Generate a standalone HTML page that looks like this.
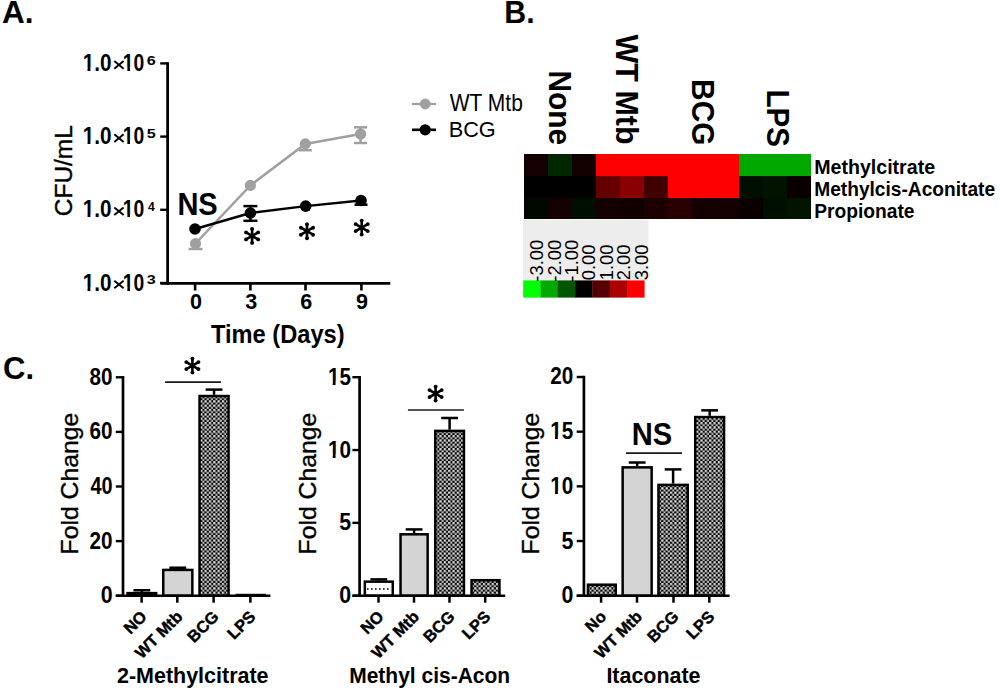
<!DOCTYPE html>
<html><head><meta charset="utf-8"><style>
html,body{margin:0;padding:0;background:#fff;width:1000px;height:690px;overflow:hidden}
svg{display:block}
text{font-family:"Liberation Sans", sans-serif}
</style></head><body>
<svg width="1000" height="690" viewBox="0 0 1000 690" font-family='"Liberation Sans", sans-serif'>
<defs>
<pattern id="chk" patternUnits="userSpaceOnUse" width="4.35" height="4.35">
<rect width="4.35" height="4.35" fill="#000"/>
<rect x="0.05" y="0.05" width="2.25" height="2.25" fill="#e2e2e2"/>
<rect x="2.2" y="2.2" width="2.1" height="2.1" fill="#c4c4c4"/>
</pattern>
</defs>
<line x1="167.60" y1="62.20" x2="167.60" y2="284.70" stroke="#000" stroke-width="2.75"/>
<line x1="160.20" y1="63.40" x2="167.60" y2="63.40" stroke="#000" stroke-width="2.4"/>
<line x1="160.20" y1="136.60" x2="167.60" y2="136.60" stroke="#000" stroke-width="2.4"/>
<line x1="160.20" y1="209.80" x2="167.60" y2="209.80" stroke="#000" stroke-width="2.4"/>
<line x1="160.20" y1="283.00" x2="167.60" y2="283.00" stroke="#000" stroke-width="2.4"/>
<line x1="160.50" y1="283.40" x2="390.30" y2="283.40" stroke="#000" stroke-width="2.75"/>
<line x1="195.10" y1="283.40" x2="195.10" y2="290.50" stroke="#000" stroke-width="2.6"/>
<line x1="250.40" y1="283.40" x2="250.40" y2="290.50" stroke="#000" stroke-width="2.6"/>
<line x1="305.50" y1="283.40" x2="305.50" y2="290.50" stroke="#000" stroke-width="2.6"/>
<line x1="361.40" y1="283.40" x2="361.40" y2="290.50" stroke="#000" stroke-width="2.6"/>
<polyline points="195.5,243.5 250.4,185.4 305.3,143.9 360.6,134.0" fill="none" stroke="#a0a0a0" stroke-width="2.5"/>
<line x1="195.50" y1="243.50" x2="195.50" y2="249.00" stroke="#a0a0a0" stroke-width="2.5"/><line x1="188.50" y1="249.00" x2="202.50" y2="249.00" stroke="#a0a0a0" stroke-width="2.5"/>
<line x1="305.30" y1="143.90" x2="305.30" y2="150.20" stroke="#a0a0a0" stroke-width="2.5"/><line x1="298.80" y1="150.20" x2="311.80" y2="150.20" stroke="#a0a0a0" stroke-width="2.5"/>
<line x1="360.60" y1="134.00" x2="360.60" y2="127.30" stroke="#a0a0a0" stroke-width="2.5"/><line x1="354.10" y1="127.30" x2="367.10" y2="127.30" stroke="#a0a0a0" stroke-width="2.5"/>
<line x1="360.60" y1="134.00" x2="360.60" y2="143.00" stroke="#a0a0a0" stroke-width="2.5"/><line x1="354.10" y1="143.00" x2="367.10" y2="143.00" stroke="#a0a0a0" stroke-width="2.5"/>
<circle cx="195.5" cy="243.5" r="5.6" fill="#a0a0a0"/>
<circle cx="250.4" cy="185.4" r="5.6" fill="#a0a0a0"/>
<circle cx="305.3" cy="143.9" r="5.6" fill="#a0a0a0"/>
<circle cx="360.6" cy="134.0" r="5.6" fill="#a0a0a0"/>
<polyline points="195.0,229.0 250.4,213.0 305.7,206.1 361.0,200.5" fill="none" stroke="#000" stroke-width="2.4"/>
<line x1="250.40" y1="213.00" x2="250.40" y2="206.10" stroke="#000" stroke-width="2.5"/><line x1="243.40" y1="206.10" x2="257.40" y2="206.10" stroke="#000" stroke-width="2.5"/>
<line x1="250.40" y1="213.00" x2="250.40" y2="220.80" stroke="#000" stroke-width="2.5"/><line x1="243.40" y1="220.80" x2="257.40" y2="220.80" stroke="#000" stroke-width="2.5"/>
<line x1="361.00" y1="200.50" x2="361.00" y2="204.70" stroke="#000" stroke-width="2.5"/><line x1="354.50" y1="204.70" x2="367.50" y2="204.70" stroke="#000" stroke-width="2.5"/>
<circle cx="195.0" cy="229.0" r="5.8" fill="#000"/>
<circle cx="250.4" cy="213.0" r="5.8" fill="#000"/>
<circle cx="305.7" cy="206.1" r="5.8" fill="#000"/>
<circle cx="361.0" cy="200.5" r="5.8" fill="#000"/>
<path d="M252.10,228.90L252.10,242.90M246.04,232.40L258.16,239.40M246.04,239.40L258.16,232.40" stroke="#000" stroke-width="2.6" fill="none"/><circle cx="252.10" cy="228.90" r="1.95"/><circle cx="252.10" cy="242.90" r="1.95"/><circle cx="246.04" cy="232.40" r="1.95"/><circle cx="258.16" cy="239.40" r="1.95"/><circle cx="246.04" cy="239.40" r="1.95"/><circle cx="258.16" cy="232.40" r="1.95"/>
<path d="M307.00,224.20L307.00,238.20M300.94,227.70L313.06,234.70M300.94,234.70L313.06,227.70" stroke="#000" stroke-width="2.6" fill="none"/><circle cx="307.00" cy="224.20" r="1.95"/><circle cx="307.00" cy="238.20" r="1.95"/><circle cx="300.94" cy="227.70" r="1.95"/><circle cx="313.06" cy="234.70" r="1.95"/><circle cx="300.94" cy="234.70" r="1.95"/><circle cx="313.06" cy="227.70" r="1.95"/>
<path d="M361.70,220.60L361.70,234.60M355.64,224.10L367.76,231.10M355.64,231.10L367.76,224.10" stroke="#000" stroke-width="2.6" fill="none"/><circle cx="361.70" cy="220.60" r="1.95"/><circle cx="361.70" cy="234.60" r="1.95"/><circle cx="355.64" cy="224.10" r="1.95"/><circle cx="367.76" cy="231.10" r="1.95"/><circle cx="355.64" cy="231.10" r="1.95"/><circle cx="367.76" cy="224.10" r="1.95"/>
<line x1="412.00" y1="104.00" x2="436.00" y2="104.00" stroke="#a0a0a0" stroke-width="2.4"/>
<circle cx="425.2" cy="104" r="5.4" fill="#a0a0a0"/>
<line x1="412.00" y1="129.80" x2="436.00" y2="129.80" stroke="#000" stroke-width="2.6"/>
<circle cx="425.2" cy="129.8" r="5.6" fill="#000"/>
<g shape-rendering="crispEdges">
<rect x="524" y="154" width="24" height="22" fill="#140000"/>
<rect x="548" y="154" width="24" height="22" fill="#002800"/>
<rect x="572" y="154" width="24" height="22" fill="#100000"/>
<rect x="596" y="154" width="24" height="22" fill="#ff0000"/>
<rect x="620" y="154" width="24" height="22" fill="#ff0000"/>
<rect x="644" y="154" width="24" height="22" fill="#ff0000"/>
<rect x="668" y="154" width="24" height="22" fill="#ff0000"/>
<rect x="692" y="154" width="23" height="22" fill="#ff0000"/>
<rect x="715" y="154" width="24" height="22" fill="#ff0000"/>
<rect x="739" y="154" width="24" height="22" fill="#00a800"/>
<rect x="763" y="154" width="24" height="22" fill="#00a800"/>
<rect x="787" y="154" width="24" height="22" fill="#00a800"/>
<rect x="524" y="176" width="24" height="22" fill="#000000"/>
<rect x="548" y="176" width="24" height="22" fill="#000000"/>
<rect x="572" y="176" width="24" height="22" fill="#000000"/>
<rect x="596" y="176" width="24" height="22" fill="#640000"/>
<rect x="620" y="176" width="24" height="22" fill="#8a0000"/>
<rect x="644" y="176" width="24" height="22" fill="#400000"/>
<rect x="668" y="176" width="24" height="22" fill="#ff0000"/>
<rect x="692" y="176" width="23" height="22" fill="#ff0000"/>
<rect x="715" y="176" width="24" height="22" fill="#ff0000"/>
<rect x="739" y="176" width="24" height="22" fill="#001000"/>
<rect x="763" y="176" width="24" height="22" fill="#001400"/>
<rect x="787" y="176" width="24" height="22" fill="#0a0000"/>
<rect x="524" y="198" width="24" height="21" fill="#000800"/>
<rect x="548" y="198" width="24" height="21" fill="#140000"/>
<rect x="572" y="198" width="24" height="21" fill="#000e00"/>
<rect x="596" y="198" width="24" height="21" fill="#140000"/>
<rect x="620" y="198" width="24" height="21" fill="#100000"/>
<rect x="644" y="198" width="24" height="21" fill="#1c0000"/>
<rect x="668" y="198" width="24" height="21" fill="#280000"/>
<rect x="692" y="198" width="23" height="21" fill="#140000"/>
<rect x="715" y="198" width="24" height="21" fill="#140000"/>
<rect x="739" y="198" width="24" height="21" fill="#0a0000"/>
<rect x="763" y="198" width="24" height="21" fill="#001000"/>
<rect x="787" y="198" width="24" height="21" fill="#001400"/>
</g>
<rect x="523" y="220" width="125.5" height="60.5" fill="#ededed"/>
<rect x="523.20" y="280.4" width="17.6" height="17.2" fill="#00ff00"/>
<rect x="540.50" y="280.4" width="17.6" height="17.2" fill="#00aa00"/>
<rect x="557.80" y="280.4" width="17.6" height="17.2" fill="#005500"/>
<rect x="575.10" y="280.4" width="17.6" height="17.2" fill="#000000"/>
<rect x="592.40" y="280.4" width="17.6" height="17.2" fill="#550000"/>
<rect x="609.70" y="280.4" width="17.6" height="17.2" fill="#aa0000"/>
<rect x="627.00" y="280.4" width="17.6" height="17.2" fill="#ff0000"/>
<line x1="115.80" y1="595.70" x2="123.00" y2="595.70" stroke="#000" stroke-width="2.4"/>
<line x1="115.80" y1="541.10" x2="123.00" y2="541.10" stroke="#000" stroke-width="2.4"/>
<line x1="115.80" y1="486.50" x2="123.00" y2="486.50" stroke="#000" stroke-width="2.4"/>
<line x1="115.80" y1="431.90" x2="123.00" y2="431.90" stroke="#000" stroke-width="2.4"/>
<line x1="115.80" y1="377.30" x2="123.00" y2="377.30" stroke="#000" stroke-width="2.4"/>
<line x1="141.85" y1="591.88" x2="141.85" y2="590.24" stroke="#000" stroke-width="2.5"/>
<line x1="133.45" y1="590.24" x2="150.25" y2="590.24" stroke="#000" stroke-width="2.5"/>
<rect x="127.55" y="593.13" width="28.60" height="2.57" fill="#000" stroke="#000" stroke-width="2.5"/>
<line x1="177.80" y1="568.67" x2="177.80" y2="567.72" stroke="#000" stroke-width="2.5"/>
<line x1="169.40" y1="567.72" x2="186.20" y2="567.72" stroke="#000" stroke-width="2.5"/>
<rect x="163.25" y="569.92" width="29.10" height="25.78" fill="#d4d4d4" stroke="#000" stroke-width="2.5"/>
<line x1="214.05" y1="394.77" x2="214.05" y2="389.59" stroke="#000" stroke-width="2.5"/>
<line x1="205.65" y1="389.59" x2="222.45" y2="389.59" stroke="#000" stroke-width="2.5"/>
<rect x="199.55" y="396.02" width="29.00" height="199.68" fill="url(#chk)" stroke="#000" stroke-width="2.5"/>
<rect x="236.75" y="595.04" width="28.00" height="0.66" fill="#000" stroke="#000" stroke-width="2.5"/>
<line x1="123.00" y1="376.10" x2="123.00" y2="595.70" stroke="#000" stroke-width="2.7"/>
<line x1="115.80" y1="595.70" x2="270.40" y2="595.70" stroke="#000" stroke-width="2.6"/>
<line x1="141.60" y1="595.70" x2="141.60" y2="602.70" stroke="#000" stroke-width="2.5"/>
<line x1="177.30" y1="595.70" x2="177.30" y2="602.70" stroke="#000" stroke-width="2.5"/>
<line x1="213.60" y1="595.70" x2="213.60" y2="602.70" stroke="#000" stroke-width="2.5"/>
<line x1="250.40" y1="595.70" x2="250.40" y2="602.70" stroke="#000" stroke-width="2.5"/>
<line x1="165.10" y1="382.20" x2="221.10" y2="382.20" stroke="#1a1a1a" stroke-width="1.7"/>
<path d="M192.40,358.60L192.40,372.60M186.34,362.10L198.46,369.10M186.34,369.10L198.46,362.10" stroke="#000" stroke-width="2.6" fill="none"/><circle cx="192.40" cy="358.60" r="1.95"/><circle cx="192.40" cy="372.60" r="1.95"/><circle cx="186.34" cy="362.10" r="1.95"/><circle cx="198.46" cy="369.10" r="1.95"/><circle cx="186.34" cy="369.10" r="1.95"/><circle cx="198.46" cy="362.10" r="1.95"/>
<line x1="352.40" y1="595.70" x2="359.60" y2="595.70" stroke="#000" stroke-width="2.4"/>
<line x1="352.40" y1="522.87" x2="359.60" y2="522.87" stroke="#000" stroke-width="2.4"/>
<line x1="352.40" y1="450.03" x2="359.60" y2="450.03" stroke="#000" stroke-width="2.4"/>
<line x1="352.40" y1="377.20" x2="359.60" y2="377.20" stroke="#000" stroke-width="2.4"/>
<line x1="378.80" y1="580.41" x2="378.80" y2="579.39" stroke="#000" stroke-width="2.5"/>
<line x1="370.40" y1="579.39" x2="387.20" y2="579.39" stroke="#000" stroke-width="2.5"/>
<rect x="364.85" y="581.66" width="27.90" height="14.04" fill="#fff" stroke="#000" stroke-width="2.5"/>
<line x1="414.10" y1="533.06" x2="414.10" y2="529.42" stroke="#000" stroke-width="2.5"/>
<line x1="405.70" y1="529.42" x2="422.50" y2="529.42" stroke="#000" stroke-width="2.5"/>
<rect x="400.55" y="534.31" width="27.10" height="61.39" fill="#d4d4d4" stroke="#000" stroke-width="2.5"/>
<line x1="449.60" y1="429.64" x2="449.60" y2="417.99" stroke="#000" stroke-width="2.5"/>
<line x1="441.20" y1="417.99" x2="458.00" y2="417.99" stroke="#000" stroke-width="2.5"/>
<rect x="435.25" y="430.89" width="28.70" height="164.81" fill="url(#chk)" stroke="#000" stroke-width="2.5"/>
<rect x="471.55" y="580.20" width="27.90" height="15.50" fill="url(#chk)" stroke="#000" stroke-width="2.5"/>
<line x1="359.60" y1="376.00" x2="359.60" y2="595.70" stroke="#000" stroke-width="2.7"/>
<line x1="352.40" y1="595.70" x2="505.20" y2="595.70" stroke="#000" stroke-width="2.6"/>
<line x1="378.50" y1="595.70" x2="378.50" y2="602.70" stroke="#000" stroke-width="2.5"/>
<line x1="414.00" y1="595.70" x2="414.00" y2="602.70" stroke="#000" stroke-width="2.5"/>
<line x1="449.50" y1="595.70" x2="449.50" y2="602.70" stroke="#000" stroke-width="2.5"/>
<line x1="485.20" y1="595.70" x2="485.20" y2="602.70" stroke="#000" stroke-width="2.5"/>
<line x1="407.90" y1="410.00" x2="463.90" y2="410.00" stroke="#1a1a1a" stroke-width="1.7"/>
<path d="M435.60,386.60L435.60,400.60M429.54,390.10L441.66,397.10M429.54,397.10L441.66,390.10" stroke="#000" stroke-width="2.6" fill="none"/><circle cx="435.60" cy="386.60" r="1.95"/><circle cx="435.60" cy="400.60" r="1.95"/><circle cx="429.54" cy="390.10" r="1.95"/><circle cx="441.66" cy="397.10" r="1.95"/><circle cx="429.54" cy="397.10" r="1.95"/><circle cx="441.66" cy="390.10" r="1.95"/>
<line x1="576.70" y1="595.70" x2="583.90" y2="595.70" stroke="#000" stroke-width="2.4"/>
<line x1="576.70" y1="541.03" x2="583.90" y2="541.03" stroke="#000" stroke-width="2.4"/>
<line x1="576.70" y1="486.35" x2="583.90" y2="486.35" stroke="#000" stroke-width="2.4"/>
<line x1="576.70" y1="431.68" x2="583.90" y2="431.68" stroke="#000" stroke-width="2.4"/>
<line x1="576.70" y1="377.00" x2="583.90" y2="377.00" stroke="#000" stroke-width="2.4"/>
<rect x="587.95" y="584.70" width="27.80" height="11.00" fill="url(#chk)" stroke="#000" stroke-width="2.5"/>
<line x1="637.15" y1="466.12" x2="637.15" y2="462.51" stroke="#000" stroke-width="2.5"/>
<line x1="628.75" y1="462.51" x2="645.55" y2="462.51" stroke="#000" stroke-width="2.5"/>
<rect x="622.65" y="467.37" width="29.00" height="128.33" fill="#d4d4d4" stroke="#000" stroke-width="2.5"/>
<line x1="673.10" y1="483.62" x2="673.10" y2="469.40" stroke="#000" stroke-width="2.5"/>
<line x1="664.70" y1="469.40" x2="681.50" y2="469.40" stroke="#000" stroke-width="2.5"/>
<rect x="658.45" y="484.87" width="29.30" height="110.83" fill="url(#chk)" stroke="#000" stroke-width="2.5"/>
<line x1="709.65" y1="415.82" x2="709.65" y2="410.35" stroke="#000" stroke-width="2.5"/>
<line x1="701.25" y1="410.35" x2="718.05" y2="410.35" stroke="#000" stroke-width="2.5"/>
<rect x="695.25" y="417.07" width="28.80" height="178.63" fill="url(#chk)" stroke="#000" stroke-width="2.5"/>
<line x1="583.90" y1="375.80" x2="583.90" y2="595.70" stroke="#000" stroke-width="2.7"/>
<line x1="576.70" y1="595.70" x2="729.60" y2="595.70" stroke="#000" stroke-width="2.6"/>
<line x1="601.10" y1="595.70" x2="601.10" y2="602.70" stroke="#000" stroke-width="2.5"/>
<line x1="637.00" y1="595.70" x2="637.00" y2="602.70" stroke="#000" stroke-width="2.5"/>
<line x1="673.50" y1="595.70" x2="673.50" y2="602.70" stroke="#000" stroke-width="2.5"/>
<line x1="709.30" y1="595.70" x2="709.30" y2="602.70" stroke="#000" stroke-width="2.5"/>
<line x1="626.00" y1="453.20" x2="682.00" y2="453.20" stroke="#1a1a1a" stroke-width="1.7"/>
<line x1="367.00" y1="589.00" x2="391.00" y2="589.00" stroke="#000" stroke-width="1.3" stroke-dasharray="1.6,2.4"/>
<text transform="translate(147.80,617.70) rotate(-45)" font-size="16.4" font-weight="bold" stroke="#000" stroke-width="0.4" text-anchor="end">NO</text>
<text transform="translate(183.50,617.70) rotate(-45)" font-size="16.4" font-weight="bold" stroke="#000" stroke-width="0.4" text-anchor="end">WT Mtb</text>
<text transform="translate(219.80,617.70) rotate(-45)" font-size="16.4" font-weight="bold" stroke="#000" stroke-width="0.4" text-anchor="end">BCG</text>
<text transform="translate(256.60,617.70) rotate(-45)" font-size="16.4" font-weight="bold" stroke="#000" stroke-width="0.4" text-anchor="end">LPS</text>
<text transform="translate(384.70,617.70) rotate(-45)" font-size="16.4" font-weight="bold" stroke="#000" stroke-width="0.4" text-anchor="end">NO</text>
<text transform="translate(420.20,617.70) rotate(-45)" font-size="16.4" font-weight="bold" stroke="#000" stroke-width="0.4" text-anchor="end">WT Mtb</text>
<text transform="translate(455.70,617.70) rotate(-45)" font-size="16.4" font-weight="bold" stroke="#000" stroke-width="0.4" text-anchor="end">BCG</text>
<text transform="translate(491.40,617.70) rotate(-45)" font-size="16.4" font-weight="bold" stroke="#000" stroke-width="0.4" text-anchor="end">LPS</text>
<text transform="translate(607.30,617.70) rotate(-45)" font-size="16.4" font-weight="bold" stroke="#000" stroke-width="0.4" text-anchor="end">No</text>
<text transform="translate(643.20,617.70) rotate(-45)" font-size="16.4" font-weight="bold" stroke="#000" stroke-width="0.4" text-anchor="end">WT Mtb</text>
<text transform="translate(679.70,617.70) rotate(-45)" font-size="16.4" font-weight="bold" stroke="#000" stroke-width="0.4" text-anchor="end">BCG</text>
<text transform="translate(715.50,617.70) rotate(-45)" font-size="16.4" font-weight="bold" stroke="#000" stroke-width="0.4" text-anchor="end">LPS</text>
<text x="1.98" y="22.80" font-size="31" font-weight="bold" textLength="31.55" lengthAdjust="spacingAndGlyphs">A.</text>
<text x="504.34" y="22.80" font-size="31" font-weight="bold" textLength="30.31" lengthAdjust="spacingAndGlyphs">B.</text>
<text x="3.08" y="378.50" font-size="30.5" font-weight="bold" textLength="31.06" lengthAdjust="spacingAndGlyphs">C.</text>
<text x="82.71" y="70.90" font-size="23.2" font-weight="bold" textLength="28.80" lengthAdjust="spacingAndGlyphs">1.0</text><rect x="83.41" y="67.73" width="4.13" height="4.37" fill="#fff"/><rect x="90.39" y="67.73" width="3.87" height="4.37" fill="#fff"/>
<text x="122.87" y="70.90" font-size="23.2" font-weight="bold" textLength="21.50" lengthAdjust="spacingAndGlyphs">10</text><rect x="123.48" y="67.73" width="3.89" height="4.37" fill="#fff"/><rect x="130.03" y="67.73" width="3.65" height="4.37" fill="#fff"/>
<text x="146.80" y="64.80" font-size="13.5" font-weight="bold" textLength="9.02" lengthAdjust="spacingAndGlyphs">6</text>
<text x="82.71" y="144.10" font-size="23.2" font-weight="bold" textLength="28.80" lengthAdjust="spacingAndGlyphs">1.0</text><rect x="83.41" y="140.93" width="4.13" height="4.37" fill="#fff"/><rect x="90.39" y="140.93" width="3.87" height="4.37" fill="#fff"/>
<text x="122.87" y="144.10" font-size="23.2" font-weight="bold" textLength="21.50" lengthAdjust="spacingAndGlyphs">10</text><rect x="123.48" y="140.93" width="3.89" height="4.37" fill="#fff"/><rect x="130.03" y="140.93" width="3.65" height="4.37" fill="#fff"/>
<text x="146.80" y="138.00" font-size="13.5" font-weight="bold" textLength="9.02" lengthAdjust="spacingAndGlyphs">5</text>
<text x="82.71" y="217.30" font-size="23.2" font-weight="bold" textLength="28.80" lengthAdjust="spacingAndGlyphs">1.0</text><rect x="83.41" y="214.13" width="4.13" height="4.37" fill="#fff"/><rect x="90.39" y="214.13" width="3.87" height="4.37" fill="#fff"/>
<text x="122.87" y="217.30" font-size="23.2" font-weight="bold" textLength="21.50" lengthAdjust="spacingAndGlyphs">10</text><rect x="123.48" y="214.13" width="3.89" height="4.37" fill="#fff"/><rect x="130.03" y="214.13" width="3.65" height="4.37" fill="#fff"/>
<text x="148.00" y="211.20" font-size="13.5" font-weight="bold" textLength="6.76" lengthAdjust="spacingAndGlyphs">4</text>
<text x="82.71" y="290.50" font-size="23.2" font-weight="bold" textLength="28.80" lengthAdjust="spacingAndGlyphs">1.0</text><rect x="83.41" y="287.33" width="4.13" height="4.37" fill="#fff"/><rect x="90.39" y="287.33" width="3.87" height="4.37" fill="#fff"/>
<text x="122.87" y="290.50" font-size="23.2" font-weight="bold" textLength="21.50" lengthAdjust="spacingAndGlyphs">10</text><rect x="123.48" y="287.33" width="3.89" height="4.37" fill="#fff"/><rect x="130.03" y="287.33" width="3.65" height="4.37" fill="#fff"/>
<text x="146.80" y="284.40" font-size="13.5" font-weight="bold" textLength="9.02" lengthAdjust="spacingAndGlyphs">3</text>
<text x="190.10" y="309.00" font-size="21.5" font-weight="bold">0</text>
<text x="245.20" y="309.00" font-size="21.5" font-weight="bold">3</text>
<text x="300.30" y="309.00" font-size="21.5" font-weight="bold">6</text>
<text x="356.00" y="309.00" font-size="21.5" font-weight="bold">9</text>
<text x="211.00" y="342.60" font-size="25.3" font-weight="bold" textLength="133.58" lengthAdjust="spacingAndGlyphs">Time (Days)</text>
<text transform="translate(72.30,216.19) rotate(-90)" font-size="24.6" font-weight="normal" stroke="#000" stroke-width="0.4" textLength="90.94" lengthAdjust="spacingAndGlyphs">CFU/mL</text>
<text x="177.38" y="215.20" font-size="31" font-weight="bold" textLength="40.39" lengthAdjust="spacingAndGlyphs">NS</text>
<text x="449.80" y="111.20" font-size="23.2" font-weight="normal" textLength="73.06" lengthAdjust="spacingAndGlyphs">WT Mtb</text>
<text x="448.69" y="137.00" font-size="22.7" font-weight="normal" textLength="47.03" lengthAdjust="spacingAndGlyphs">BCG</text>
<text transform="translate(548.90,70.50) rotate(90)" font-size="31.4" font-weight="bold" textLength="74.72" lengthAdjust="spacingAndGlyphs">None</text>
<text transform="translate(615.60,34.60) rotate(90)" font-size="31.8" font-weight="bold" textLength="110.01" lengthAdjust="spacingAndGlyphs">WT Mtb</text>
<text transform="translate(692.10,79.11) rotate(90)" font-size="31.5" font-weight="bold" textLength="66.29" lengthAdjust="spacingAndGlyphs">BCG</text>
<text transform="translate(767.30,89.39) rotate(90)" font-size="31.0" font-weight="bold" textLength="57.55" lengthAdjust="spacingAndGlyphs">LPS</text>
<text x="814.20" y="173.90" font-size="19.6" font-weight="bold">Methylcitrate</text>
<text x="814.22" y="196.20" font-size="19.6" font-weight="bold" textLength="180.87" lengthAdjust="spacingAndGlyphs">Methylcis-Aconitate</text>
<text x="814.22" y="217.50" font-size="19.6" font-weight="bold" textLength="100.32" lengthAdjust="spacingAndGlyphs">Propionate</text>
<text transform="translate(543.10,281.70) rotate(-90)" font-size="18.4" font-weight="normal">-3.00</text>
<text transform="translate(560.50,281.70) rotate(-90)" font-size="18.4" font-weight="normal">-2.00</text>
<text transform="translate(577.90,281.70) rotate(-90)" font-size="18.4" font-weight="normal">-1.00</text>
<text transform="translate(595.30,280.30) rotate(-90)" font-size="18.4" font-weight="normal">0.00</text>
<text transform="translate(612.70,280.30) rotate(-90)" font-size="18.4" font-weight="normal">1.00</text>
<text transform="translate(630.10,280.30) rotate(-90)" font-size="18.4" font-weight="normal">2.00</text>
<text transform="translate(647.50,280.30) rotate(-90)" font-size="18.4" font-weight="normal">3.00</text>
<text x="100.84" y="603.40" font-size="23" font-weight="bold" textLength="11.90" lengthAdjust="spacingAndGlyphs">0</text>
<text x="89.50" y="548.73" font-size="23" font-weight="bold" textLength="23.03" lengthAdjust="spacingAndGlyphs">20</text>
<text x="90.40" y="494.05" font-size="23" font-weight="bold" textLength="22.11" lengthAdjust="spacingAndGlyphs">40</text>
<text x="89.50" y="439.38" font-size="23" font-weight="bold" textLength="23.03" lengthAdjust="spacingAndGlyphs">60</text>
<text x="89.50" y="384.70" font-size="23" font-weight="bold" textLength="23.03" lengthAdjust="spacingAndGlyphs">80</text>
<text transform="translate(78.00,554.44) rotate(-90)" font-size="24.3" font-weight="normal" stroke="#000" stroke-width="0.35" textLength="141.80" lengthAdjust="spacingAndGlyphs">Fold Change</text>
<text x="339.24" y="603.40" font-size="23" font-weight="bold" textLength="11.90" lengthAdjust="spacingAndGlyphs">0</text>
<text x="339.24" y="530.47" font-size="23" font-weight="bold" textLength="11.90" lengthAdjust="spacingAndGlyphs">5</text>
<text x="327.90" y="457.53" font-size="23" font-weight="bold" textLength="23.03" lengthAdjust="spacingAndGlyphs">10</text><rect x="328.60" y="454.39" width="4.13" height="4.35" fill="#fff"/><rect x="335.57" y="454.39" width="3.86" height="4.35" fill="#fff"/>
<text x="327.90" y="384.60" font-size="23" font-weight="bold" textLength="23.03" lengthAdjust="spacingAndGlyphs">15</text><rect x="328.60" y="381.45" width="4.13" height="4.35" fill="#fff"/><rect x="335.57" y="381.45" width="3.86" height="4.35" fill="#fff"/>
<text transform="translate(316.10,554.44) rotate(-90)" font-size="24.3" font-weight="normal" stroke="#000" stroke-width="0.35" textLength="141.80" lengthAdjust="spacingAndGlyphs">Fold Change</text>
<text x="561.54" y="603.40" font-size="23" font-weight="bold" textLength="11.90" lengthAdjust="spacingAndGlyphs">0</text>
<text x="561.54" y="548.65" font-size="23" font-weight="bold" textLength="11.90" lengthAdjust="spacingAndGlyphs">5</text>
<text x="550.20" y="493.90" font-size="23" font-weight="bold" textLength="23.03" lengthAdjust="spacingAndGlyphs">10</text><rect x="550.90" y="490.75" width="4.13" height="4.35" fill="#fff"/><rect x="557.87" y="490.75" width="3.86" height="4.35" fill="#fff"/>
<text x="550.20" y="439.15" font-size="23" font-weight="bold" textLength="23.03" lengthAdjust="spacingAndGlyphs">15</text><rect x="550.90" y="436.00" width="4.13" height="4.35" fill="#fff"/><rect x="557.87" y="436.00" width="3.86" height="4.35" fill="#fff"/>
<text x="550.20" y="384.40" font-size="23" font-weight="bold" textLength="23.03" lengthAdjust="spacingAndGlyphs">20</text>
<text transform="translate(538.70,554.44) rotate(-90)" font-size="24.3" font-weight="normal" stroke="#000" stroke-width="0.35" textLength="141.80" lengthAdjust="spacingAndGlyphs">Fold Change</text>
<text x="116.95" y="682.50" font-size="22.5" font-weight="bold" textLength="151.62" lengthAdjust="spacingAndGlyphs">2-Methylcitrate</text>
<text x="349.23" y="682.50" font-size="22.5" font-weight="bold" textLength="160.89" lengthAdjust="spacingAndGlyphs">Methyl cis-Acon</text>
<text x="606.39" y="682.50" font-size="22.5" font-weight="bold" textLength="94.15" lengthAdjust="spacingAndGlyphs">Itaconate</text>
<text x="631.72" y="445.20" font-size="31" font-weight="bold" textLength="40.49" lengthAdjust="spacingAndGlyphs">NS</text>
<line x1="114.30" y1="61.10" x2="123.60" y2="68.70" stroke="#000" stroke-width="1.9"/>
<line x1="114.30" y1="68.70" x2="123.60" y2="61.10" stroke="#000" stroke-width="1.9"/>
<line x1="114.30" y1="134.30" x2="123.60" y2="141.90" stroke="#000" stroke-width="1.9"/>
<line x1="114.30" y1="141.90" x2="123.60" y2="134.30" stroke="#000" stroke-width="1.9"/>
<line x1="114.30" y1="207.50" x2="123.60" y2="215.10" stroke="#000" stroke-width="1.9"/>
<line x1="114.30" y1="215.10" x2="123.60" y2="207.50" stroke="#000" stroke-width="1.9"/>
<line x1="114.30" y1="280.70" x2="123.60" y2="288.30" stroke="#000" stroke-width="1.9"/>
<line x1="114.30" y1="288.30" x2="123.60" y2="280.70" stroke="#000" stroke-width="1.9"/>
</svg>
</body></html>
